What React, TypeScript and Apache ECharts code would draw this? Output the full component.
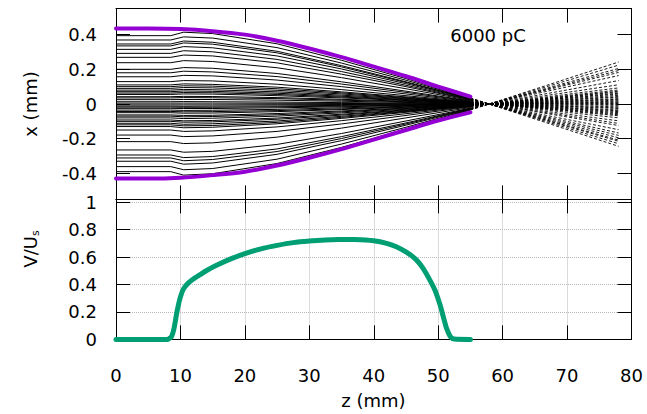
import React, { useEffect, useRef } from 'react';
import * as echarts from 'echarts';

// z positions (mm) of the read-off knots of each trajectory (solid part)
const rayZ = [0, 8.5, 10.5, 15, 25, 35, 45, 55];
// z positions of the dashed (post-focus) part
const rayTailZ = [55, 78];

// each ray: x (mm) at rayZ knots, last value is x at z = 78 mm
const rays: number[][] = [
  [0.394, 0.394, 0.414, 0.406, 0.347, 0.252, 0.146, 0.035, -0.244],
  [0.369, 0.369, 0.387, 0.380, 0.325, 0.236, 0.137, 0.033, -0.229],
  [0.346, 0.346, 0.363, 0.356, 0.304, 0.221, 0.128, 0.031, -0.215],
  [0.335, 0.335, 0.352, 0.345, 0.295, 0.214, 0.124, 0.030, -0.208],
  [0.315, 0.315, 0.331, 0.324, 0.277, 0.202, 0.117, 0.028, -0.195],
  [0.292, 0.292, 0.307, 0.301, 0.257, 0.187, 0.108, 0.026, -0.181],
  [0.269, 0.269, 0.282, 0.277, 0.237, 0.172, 0.100, 0.024, -0.167],
  [0.238, 0.238, 0.250, 0.245, 0.209, 0.152, 0.088, 0.021, -0.148],
  [0.200, 0.200, 0.210, 0.206, 0.176, 0.128, 0.074, 0.018, -0.124],
  [0.180, 0.180, 0.189, 0.185, 0.158, 0.115, 0.067, 0.016, -0.112],
  [0.157, 0.157, 0.165, 0.162, 0.138, 0.100, 0.058, 0.014, -0.097],
  [0.129, 0.129, 0.135, 0.133, 0.114, 0.083, 0.048, 0.012, -0.080],
  [0.110, 0.110, 0.116, 0.113, 0.097, 0.070, 0.041, 0.010, -0.068],
  [0.100, 0.100, 0.105, 0.103, 0.088, 0.064, 0.037, 0.009, -0.062],
  [0.090, 0.090, 0.095, 0.093, 0.079, 0.058, 0.033, 0.008, -0.056],
  [0.080, 0.080, 0.084, 0.082, 0.070, 0.051, 0.030, 0.007, -0.050],
  [0.071, 0.071, 0.075, 0.073, 0.062, 0.045, 0.026, 0.006, -0.044],
  [0.063, 0.063, 0.066, 0.065, 0.055, 0.040, 0.023, 0.006, -0.039],
  [0.055, 0.055, 0.058, 0.057, 0.048, 0.035, 0.020, 0.005, -0.034],
  [0.042, 0.042, 0.044, 0.043, 0.037, 0.027, 0.016, 0.004, -0.026],
  [0.035, 0.035, 0.037, 0.036, 0.031, 0.022, 0.013, 0.003, -0.022],
  [0.025, 0.025, 0.026, 0.026, 0.022, 0.016, 0.009, 0.002, -0.016],
  [0.013, 0.013, 0.014, 0.013, 0.011, 0.008, 0.005, 0.001, -0.008],
  [0.005, 0.005, 0.005, 0.005, 0.004, 0.003, 0.002, 0.000, -0.003],
  [-0.005, -0.005, -0.005, -0.005, -0.004, -0.003, -0.002, 0.000, 0.003],
  [-0.012, -0.012, -0.013, -0.012, -0.011, -0.008, -0.004, -0.001, 0.007],
  [-0.018, -0.018, -0.019, -0.019, -0.016, -0.012, -0.007, -0.002, 0.011],
  [-0.025, -0.025, -0.026, -0.026, -0.022, -0.016, -0.009, -0.002, 0.016],
  [-0.035, -0.035, -0.037, -0.036, -0.031, -0.022, -0.013, -0.003, 0.022],
  [-0.043, -0.043, -0.045, -0.044, -0.038, -0.028, -0.016, -0.004, 0.027],
  [-0.050, -0.050, -0.053, -0.052, -0.044, -0.032, -0.019, -0.005, 0.031],
  [-0.063, -0.063, -0.066, -0.065, -0.055, -0.040, -0.023, -0.006, 0.039],
  [-0.070, -0.070, -0.074, -0.072, -0.062, -0.045, -0.026, -0.006, 0.043],
  [-0.080, -0.080, -0.084, -0.082, -0.070, -0.051, -0.030, -0.007, 0.050],
  [-0.092, -0.092, -0.097, -0.095, -0.081, -0.059, -0.034, -0.008, 0.057],
  [-0.100, -0.100, -0.105, -0.103, -0.088, -0.064, -0.037, -0.009, 0.062],
  [-0.111, -0.111, -0.117, -0.114, -0.098, -0.071, -0.041, -0.010, 0.069],
  [-0.120, -0.120, -0.126, -0.124, -0.106, -0.077, -0.044, -0.011, 0.074],
  [-0.130, -0.130, -0.137, -0.134, -0.114, -0.083, -0.048, -0.012, 0.081],
  [-0.150, -0.150, -0.158, -0.155, -0.132, -0.096, -0.056, -0.014, 0.093],
  [-0.179, -0.179, -0.188, -0.184, -0.158, -0.115, -0.066, -0.016, 0.111],
  [-0.217, -0.217, -0.228, -0.224, -0.191, -0.139, -0.080, -0.020, 0.135],
  [-0.265, -0.265, -0.278, -0.273, -0.233, -0.170, -0.098, -0.024, 0.164],
  [-0.294, -0.294, -0.309, -0.303, -0.259, -0.188, -0.109, -0.026, 0.182],
  [-0.311, -0.311, -0.327, -0.320, -0.274, -0.199, -0.115, -0.028, 0.193],
  [-0.330, -0.330, -0.347, -0.340, -0.290, -0.211, -0.122, -0.030, 0.205],
  [-0.361, -0.361, -0.379, -0.372, -0.318, -0.231, -0.134, -0.032, 0.224],
  [-0.390, -0.390, -0.410, -0.402, -0.343, -0.250, -0.144, -0.035, 0.242],
];

// beam envelope (purple)
const envZ = [0, 5, 10, 15, 20, 25, 30, 35, 40, 45, 50, 55];
const envUpper = [0.435, 0.435, 0.432, 0.42, 0.40, 0.365, 0.32, 0.27, 0.215, 0.16, 0.10, 0.042];
const envLower = [-0.43, -0.43, -0.425, -0.41, -0.39, -0.355, -0.31, -0.26, -0.205, -0.15, -0.095, -0.048];

// voltage profile (green)
const voltZ = [0, 8, 8.6, 9, 9.5, 10, 10.5, 11.2, 12, 13, 14, 15.6, 18, 20, 22.5, 25, 27.5, 30, 32.5, 34.5, 37, 40, 42, 43.5, 45, 46.5, 47.5, 48.5, 49.5, 50.3, 50.8, 51.3, 51.9, 52.5, 55];
const voltV = [0, 0, 0.02, 0.08, 0.21, 0.31, 0.37, 0.41, 0.44, 0.47, 0.5, 0.54, 0.59, 0.625, 0.66, 0.685, 0.705, 0.717, 0.725, 0.728, 0.727, 0.718, 0.7, 0.675, 0.637, 0.585, 0.528, 0.45, 0.358, 0.25, 0.164, 0.08, 0.02, 0.003, 0];

const FONT = 'DejaVu Sans';
const FS = 18;

export default function App() {
  const ref = useRef<HTMLDivElement>(null);

  useEffect(() => {
    if (!ref.current) return;
    const chart = echarts.init(ref.current, undefined, { renderer: 'svg' });
    const line = { color: '#000', width: 1 };
    const tick = { show: true, inside: true, length: 14, lineStyle: line };
    const label = { fontFamily: FONT, fontSize: FS, color: '#000' };
    const dotted = { show: true, lineStyle: { type: 'dotted', color: '#b8b8b8', width: 1 } };

    const xBase = (grid: number, position: string) => ({
      type: 'value', gridIndex: grid, position, min: 0, max: 80, interval: 10,
      axisLine: { show: true, onZero: false, lineStyle: line },
      axisTick: tick, axisLabel: { show: false }, splitLine: { show: false },
    });

    const series: any[] = [];
    rays.forEach((r) => {
      series.push({
        type: 'line', xAxisIndex: 0, yAxisIndex: 0, symbol: 'none', silent: true,
        lineStyle: { color: '#000', width: 1 },
        data: rayZ.map((z, i) => [z, r[i]]),
      });
      series.push({
        type: 'line', xAxisIndex: 0, yAxisIndex: 0, symbol: 'none', silent: true,
        lineStyle: { color: '#000', width: 0.9, type: [3, 2] },
        data: [[rayTailZ[0], r[7]], [rayTailZ[1], r[8]]],
      });
    });
    [envUpper, envLower].forEach((env) => {
      series.push({
        type: 'line', xAxisIndex: 0, yAxisIndex: 0, symbol: 'none', silent: true, clip: false,
        smooth: 0.3, z: 5,
        lineStyle: { color: '#9400d3', width: 4, cap: 'round' },
        data: envZ.map((z, i) => [z, env[i]]),
      });
    });
    series.push({
      type: 'line', xAxisIndex: 2, yAxisIndex: 2, symbol: 'none', silent: true, clip: false,
      smooth: 0.2, z: 5,
      lineStyle: { color: '#009e73', width: 5, cap: 'round', join: 'round' },
      data: voltZ.map((z, i) => [z, voltV[i]]),
    });

    chart.setOption({
      animation: false,
      backgroundColor: '#fff',
      grid: [
        { left: 116, right: 15.5, top: 8.6, height: 190.8, outerBoundsMode: 'none' },
        { left: 116, right: 15.5, top: 199.4, height: 140, outerBoundsMode: 'none' },
      ],
      xAxis: [
        xBase(0, 'bottom'),
        xBase(0, 'top'),
        { ...xBase(1, 'bottom'), axisLabel: { show: true, margin: 27, ...label }, splitLine: dotted },
        xBase(1, 'top'),
      ],
      yAxis: [
        {
          type: 'value', gridIndex: 0, position: 'left', min: -0.55, max: 0.55, splitNumber: 5,
          axisLine: { show: true, onZero: false, lineStyle: line }, axisTick: tick,
          axisLabel: { show: true, margin: 19, showMinLabel: false, showMaxLabel: false, ...label },
          splitLine: { show: false },
        },
        {
          type: 'value', gridIndex: 0, position: 'right', min: -0.55, max: 0.55, splitNumber: 5,
          axisLine: { show: true, onZero: false, lineStyle: line }, axisTick: tick,
          axisLabel: { show: false }, splitLine: { show: false },
        },
        {
          type: 'value', gridIndex: 1, position: 'left', min: 0, max: 1.02, interval: 0.2,
          axisLine: { show: true, onZero: false, lineStyle: line }, axisTick: tick,
          axisLabel: { show: true, margin: 19, showMaxLabel: false, ...label },
          splitLine: dotted,
        },
        {
          type: 'value', gridIndex: 1, position: 'right', min: 0, max: 1.02, interval: 0.2,
          axisLine: { show: true, onZero: false, lineStyle: line }, axisTick: tick,
          axisLabel: { show: false }, splitLine: { show: false },
        },
      ],
      graphic: [
        {
          type: 'text', x: 30, y: 104, rotation: Math.PI / 2,
          style: { text: 'x (mm)', font: `${FS}px "${FONT}"`, fill: '#000', align: 'center', verticalAlign: 'middle' },
        },
        {
          type: 'text', x: 30, y: 249, rotation: Math.PI / 2,
          style: {
            text: '{a|V/U}{b|s}', fill: '#000', align: 'center', verticalAlign: 'middle',
            rich: {
              a: { fontFamily: FONT, fontSize: FS, lineHeight: 22, fill: '#000' },
              b: { fontFamily: FONT, fontSize: 11, lineHeight: 11, verticalAlign: 'bottom', fill: '#000' },
            },
          },
        },
        {
          type: 'text', x: 488, y: 35,
          style: { text: '6000 pC', font: `${FS}px "${FONT}"`, fill: '#000', align: 'center', verticalAlign: 'middle' },
        },
        {
          type: 'text', x: 373.5, y: 400,
          style: { text: 'z (mm)', font: `${FS}px "${FONT}"`, fill: '#000', align: 'center', verticalAlign: 'middle' },
        },
      ],
      series,
    });
    return () => chart.dispose();
  }, []);

  return <div ref={ref} style={{ position: 'fixed', left: 0, top: 0, width: 647, height: 414 }} />;
}
